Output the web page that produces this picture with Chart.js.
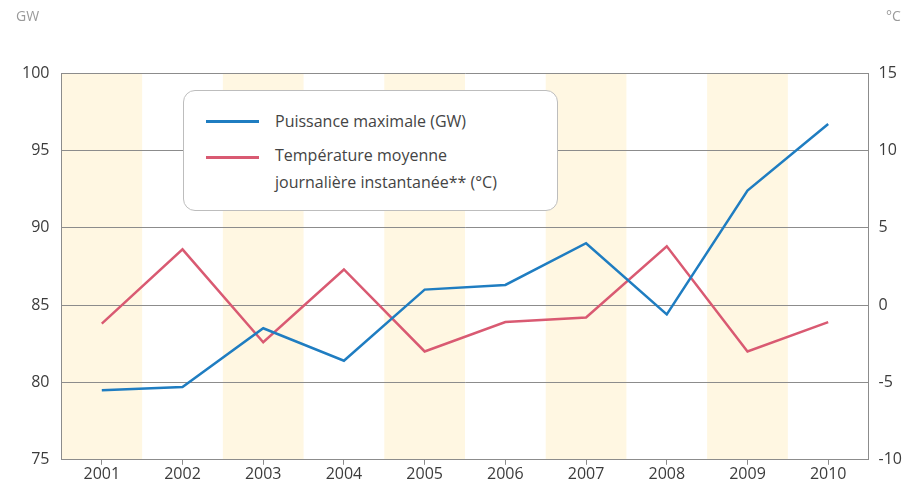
<!DOCTYPE html>
<html>
<head>
<meta charset="utf-8">
<script src="https://cdn.jsdelivr.net/npm/chart.js@4"></script>
<style>
  body { margin: 0; background: #fff; }
  #wrap { position: relative; width: 912px; height: 496px; font-family: "Open Sans", sans-serif; }
  .unit { position: absolute; top: 6px; font-size: 14px; color: #9a9a9a; }
  #legend {
    position: absolute; left: 183px; top: 90px; width: 375px; height: 121px;
    border: 1px solid #bdbdbd; border-radius: 12px; background: #fff;
    font-size: 16px; color: #444; box-sizing: border-box;
  }
  .row { position: absolute; left: 22px; display: flex; align-items: flex-start; }
  .swatch { width: 53px; height: 3px; margin-right: 16px; margin-top: 10px; }
</style>
</head>
<body>
<div id="wrap">
  <canvas id="myChart" width="912" height="496"></canvas>
  <div class="unit" style="left:16px">GW</div>
  <div class="unit" style="left:886px">°C</div>
  <div id="legend">
    <div class="row" style="top:19px"><div class="swatch" style="background:#1f7dc1"></div><div>Puissance maximale (GW)</div></div>
    <div class="row" style="top:55px"><div class="swatch" style="background:#d95a72"></div><div style="line-height:27px;margin-top:-4px">Température moyenne<br>journalière instantanée** (°C)</div></div>
  </div>
</div>
<script>
var years = ['2001', '2002', '2003', '2004', '2005', '2006', '2007', '2008', '2009', '2010'];
var puissance = [79.5, 79.7, 83.5, 81.4, 86.0, 86.3, 89.0, 84.4, 92.4, 96.7];
var temperature = [-1.2, 3.6, -2.4, 2.3, -3.0, -1.1, -0.8, 3.8, -3.0, -1.1];
var shadedYears = ['2001', '2003', '2005', '2007', '2009'];

// pale bands behind every other year
var bands = {
    id: 'bands',
    beforeDraw: function(chart) {
        var c = chart.ctx, x = chart.scales.x, a = chart.chartArea;
        var w = (a.right - a.left) / years.length;
        c.save();
        c.fillStyle = '#fff7e2';
        shadedYears.forEach(function(y) {
            var cx = x.getPixelForValue(years.indexOf(y));
            c.fillRect(cx - w / 2, a.top, w, a.bottom - a.top);
        });
        c.restore();
    }
};

var ctx = document.getElementById('myChart').getContext('2d');
var chart = new Chart(ctx, {
    type: 'line',
    data: {
        labels: years,
        datasets: [{
            label: 'Puissance maximale (GW)',
            data: puissance,
            yAxisID: 'y',
            borderColor: '#1f7dc1',
            borderWidth: 2.5,
            pointRadius: 0,
            tension: 0
        }, {
            label: 'Température moyenne journalière instantanée** (°C)',
            data: temperature,
            yAxisID: 'y1',
            borderColor: '#d95a72',
            borderWidth: 2.5,
            pointRadius: 0,
            tension: 0
        }]
    },
    options: {
        responsive: false,
        animation: false,
        layout: { padding: { top: 73, left: 10, right: 0, bottom: 12 } },
        plugins: { legend: { display: false }, tooltip: { enabled: false } },
        scales: {
            x: {
                offset: true,
                grid: { drawOnChartArea: false, drawTicks: true, tickLength: 5, color: '#8c8c8c' },
                border: { color: '#8c8c8c' },
                ticks: { color: '#3c3c3c', font: { family: 'Open Sans', size: 16 }, padding: 0 }
            },
            y: {
                position: 'left',
                min: 75, max: 100,
                ticks: { stepSize: 5, color: '#3c3c3c', font: { family: 'Open Sans', size: 16 }, padding: 12 },
                grid: { color: '#8c8c8c', drawTicks: false },
                border: { color: '#8c8c8c' }
            },
            y1: {
                position: 'right',
                min: -10, max: 15,
                ticks: { stepSize: 5, color: '#3c3c3c', font: { family: 'Open Sans', size: 16 }, padding: 10 },
                grid: { drawOnChartArea: false, drawTicks: false },
                border: { color: '#8c8c8c' }
            }
        }
    },
    plugins: [bands]
});
</script>
</body>
</html>
